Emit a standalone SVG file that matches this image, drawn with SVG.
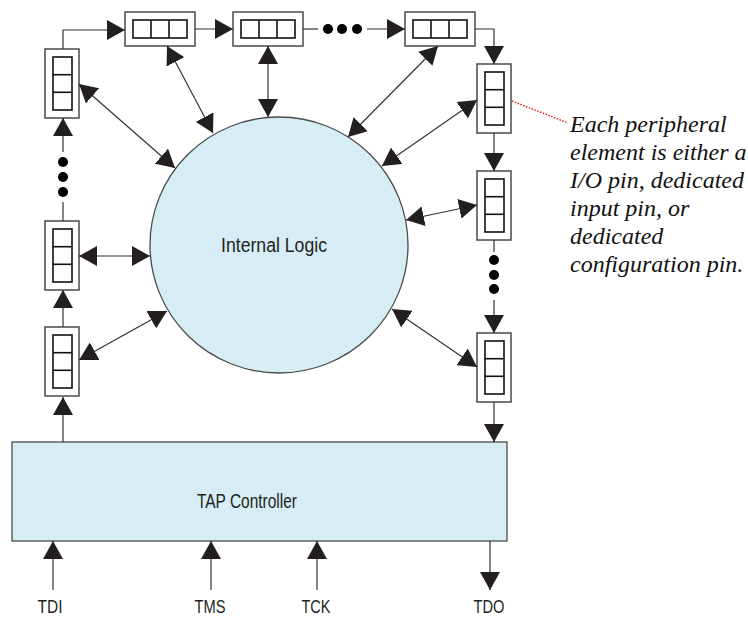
<svg xmlns="http://www.w3.org/2000/svg" width="748" height="620" viewBox="0 0 748 620">
<style>
.outer{fill:#fff;stroke:#4a4a4a;stroke-width:1.5}
.inner{fill:#fff;stroke:#111;stroke-width:1.6}
.blue{fill:#d6edf5;stroke:#4a4a4a;stroke-width:1.3}
.ln{fill:none;stroke:#333;stroke-width:1.2}
.dot{fill:#000}
.lbl{font-family:"Liberation Sans",Arial,sans-serif;font-size:20px;fill:#231f20;text-anchor:middle}
.pin{font-family:"Liberation Sans",Arial,sans-serif;font-size:19px;fill:#231f20;text-anchor:middle}
.note{font-family:"Liberation Serif",serif;font-style:italic;font-size:24px;fill:#111}
</style>
<defs>
<marker id="ah" markerUnits="userSpaceOnUse" markerWidth="18" markerHeight="20" refX="18" refY="10" orient="auto-start-reverse" viewBox="0 0 18 20">
<path d="M0,0 L18,10 L0,20 Z" fill="#231f20"/>
</marker>
<g id="hcell">
<rect class="outer" x="0" y="0" width="70" height="34"/>
<rect class="inner" x="8" y="8" width="54" height="18"/>
<line class="inner" x1="26" y1="8" x2="26" y2="26"/>
<line class="inner" x1="44" y1="8" x2="44" y2="26"/>
</g>
<g id="vcell">
<rect class="outer" x="0" y="0" width="34" height="69"/>
<rect class="inner" x="8" y="8" width="19" height="53"/>
<line class="inner" x1="8" y1="25.7" x2="27" y2="25.7"/>
<line class="inner" x1="8" y1="43.3" x2="27" y2="43.3"/>
</g>
</defs>

<g id="internal-logic">
<ellipse class="blue" cx="279" cy="245" rx="129" ry="128"/>
<text class="lbl" x="274" y="252" textLength="106" lengthAdjust="spacingAndGlyphs">Internal Logic</text>
</g>

<g id="tap-controller">
<rect class="blue" x="12" y="442" width="495" height="99"/>
<text class="lbl" x="247" y="508" textLength="100" lengthAdjust="spacingAndGlyphs">TAP Controller</text>
</g>

<g id="top-cell-1"><use href="#hcell" x="125" y="12"/></g>
<g id="top-cell-2"><use href="#hcell" x="233" y="12"/></g>
<g id="top-cell-3"><use href="#hcell" x="405" y="12"/></g>
<g id="left-cell-1"><use href="#vcell" x="45" y="49"/></g>
<g id="left-cell-2"><use href="#vcell" x="45" y="221"/></g>
<g id="left-cell-3"><use href="#vcell" x="45" y="327"/></g>
<g id="right-cell-1"><use href="#vcell" x="477" y="64"/></g>
<g id="right-cell-2"><use href="#vcell" x="477" y="171"/></g>
<g id="right-cell-3"><use href="#vcell" x="477" y="333"/></g>

<g id="connectors">
<line class="ln" x1="63" y1="442" x2="63" y2="397" marker-end="url(#ah)"/>
<line class="ln" x1="63" y1="327" x2="63" y2="290" marker-end="url(#ah)"/>
<line class="ln" x1="63" y1="221" x2="63" y2="202"/>
<circle class="dot" cx="63" cy="192" r="5"/>
<circle class="dot" cx="63" cy="177" r="5"/>
<circle class="dot" cx="63" cy="162" r="5"/>
<line class="ln" x1="63" y1="152" x2="63" y2="118" marker-end="url(#ah)"/>
<polyline class="ln" points="63,49 63,30 125,30" marker-end="url(#ah)"/>
<line class="ln" x1="195" y1="29" x2="233" y2="29" marker-end="url(#ah)"/>
<line class="ln" x1="303" y1="29" x2="318" y2="29"/>
<circle class="dot" cx="328" cy="29" r="5"/>
<circle class="dot" cx="342" cy="29" r="5"/>
<circle class="dot" cx="357" cy="29" r="5"/>
<line class="ln" x1="367" y1="29" x2="405" y2="29" marker-end="url(#ah)"/>
<polyline class="ln" points="475,29 494,29 494,64" marker-end="url(#ah)"/>
<line class="ln" x1="494" y1="133" x2="494" y2="171" marker-end="url(#ah)"/>
<line class="ln" x1="494" y1="240" x2="494" y2="252"/>
<circle class="dot" cx="494" cy="260" r="5"/>
<circle class="dot" cx="494" cy="275" r="5"/>
<circle class="dot" cx="494" cy="289" r="5"/>
<line class="ln" x1="494" y1="300" x2="494" y2="333" marker-end="url(#ah)"/>
<line class="ln" x1="494" y1="402" x2="494" y2="442" marker-end="url(#ah)"/>
<line class="ln" x1="79" y1="84" x2="175" y2="168" marker-start="url(#ah)" marker-end="url(#ah)"/>
<line class="ln" x1="167" y1="46" x2="213" y2="133" marker-start="url(#ah)" marker-end="url(#ah)"/>
<line class="ln" x1="268" y1="46" x2="268" y2="117" marker-start="url(#ah)" marker-end="url(#ah)"/>
<line class="ln" x1="438" y1="46" x2="348" y2="137" marker-start="url(#ah)" marker-end="url(#ah)"/>
<line class="ln" x1="382" y1="166" x2="477" y2="100" marker-start="url(#ah)" marker-end="url(#ah)"/>
<line class="ln" x1="406" y1="220" x2="477" y2="205" marker-start="url(#ah)" marker-end="url(#ah)"/>
<line class="ln" x1="392" y1="309" x2="477" y2="367" marker-start="url(#ah)" marker-end="url(#ah)"/>
<line class="ln" x1="79" y1="256" x2="150" y2="256" marker-start="url(#ah)" marker-end="url(#ah)"/>
<line class="ln" x1="79" y1="360" x2="167" y2="311" marker-start="url(#ah)" marker-end="url(#ah)"/>
<line class="ln" x1="53" y1="590" x2="53" y2="541" marker-end="url(#ah)"/>
<line class="ln" x1="211" y1="590" x2="211" y2="541" marker-end="url(#ah)"/>
<line class="ln" x1="317" y1="590" x2="317" y2="541" marker-end="url(#ah)"/>
<line class="ln" x1="490" y1="541" x2="490" y2="590" marker-end="url(#ah)"/>
<line x1="512" y1="101" x2="568" y2="123" stroke="#e02020" stroke-width="1.5" stroke-dasharray="1.5 1.5"/>
</g>

<g id="pin-labels">
<text class="pin" x="50" y="613" textLength="25" lengthAdjust="spacingAndGlyphs">TDI</text>
<text class="pin" x="210" y="613" textLength="31" lengthAdjust="spacingAndGlyphs">TMS</text>
<text class="pin" x="316" y="613" textLength="29" lengthAdjust="spacingAndGlyphs">TCK</text>
<text class="pin" x="489" y="613" textLength="31" lengthAdjust="spacingAndGlyphs">TDO</text>
</g>

<g id="note">
<text class="note" x="570" y="132">Each peripheral</text>
<text class="note" x="570" y="160">element is either a</text>
<text class="note" x="570" y="188">I/O pin, dedicated</text>
<text class="note" x="570" y="216">input pin, or</text>
<text class="note" x="570" y="244">dedicated</text>
<text class="note" x="570" y="272">configuration pin.</text>
</g>
</svg>
